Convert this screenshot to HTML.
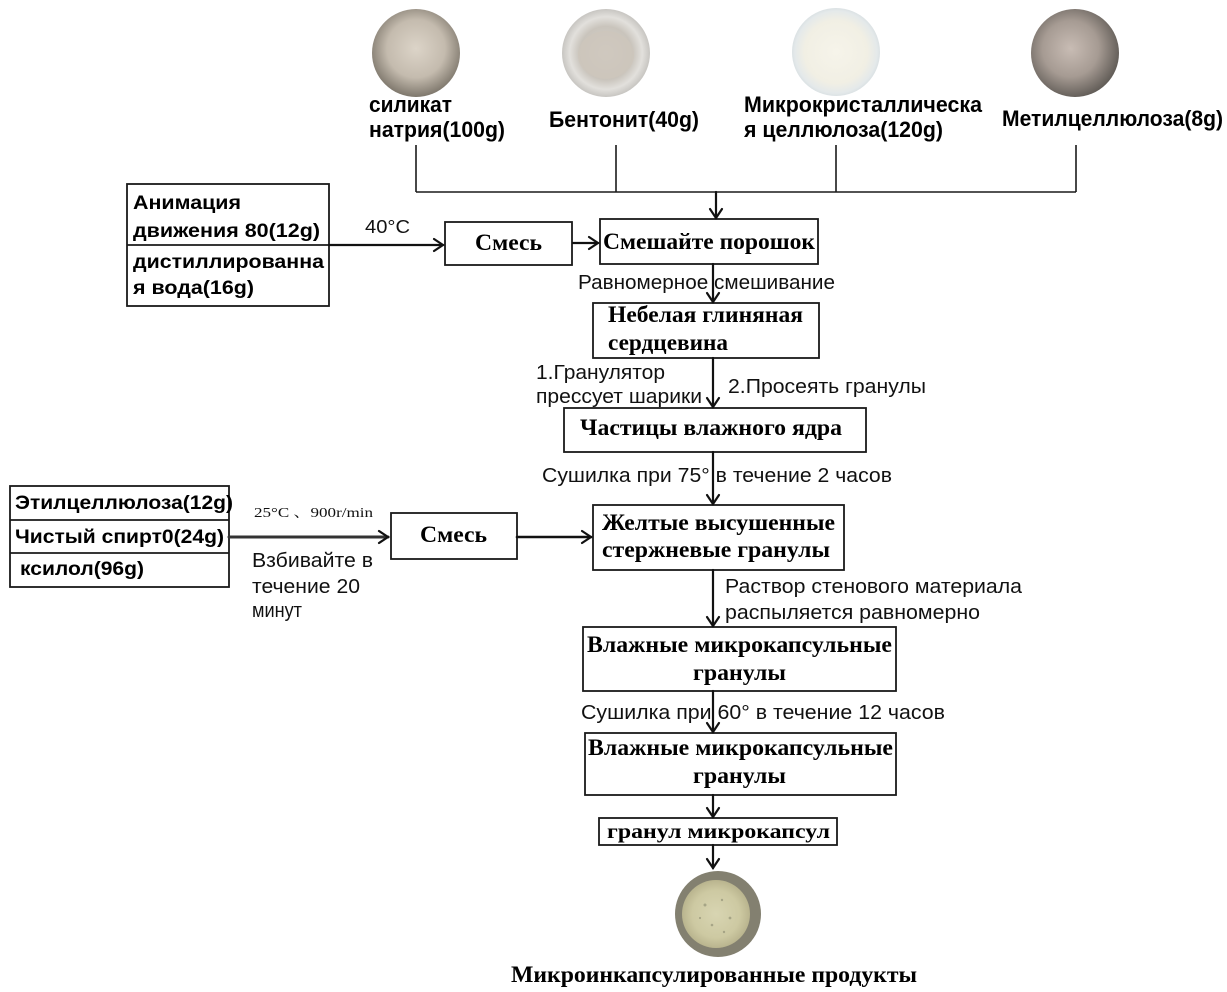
<!DOCTYPE html>
<html><head><meta charset="utf-8"><style>
html,body{margin:0;padding:0;background:#fff;}
svg{display:block;}
.bs{font-family:"Liberation Sans","Noto Sans CJK SC",sans-serif;font-weight:bold;fill:#000;}
.rs{font-family:"Liberation Sans","Noto Sans CJK SC",sans-serif;fill:#111;}
.bf{font-family:"Liberation Serif","Noto Serif CJK SC",serif;font-weight:bold;fill:#000;}
.sf{font-family:"Liberation Serif","Noto Serif CJK SC",serif;fill:#111;}
</style></head><body>
<svg width="1227" height="992" viewBox="0 0 1227 992" xmlns="http://www.w3.org/2000/svg">
<defs>
<radialGradient id="g1" cx="50%" cy="45%" r="55%"><stop offset="0" stop-color="#dcd4c8"/><stop offset="0.6" stop-color="#c4bbae"/><stop offset="1" stop-color="#7e776c"/></radialGradient>
<radialGradient id="g2" cx="50%" cy="50%" r="55%"><stop offset="0" stop-color="#d8d3cb"/><stop offset="0.55" stop-color="#c9c4bc"/><stop offset="0.75" stop-color="#e2e0dc"/><stop offset="1" stop-color="#b8b6b2"/></radialGradient>
<radialGradient id="g3" cx="50%" cy="50%" r="55%"><stop offset="0" stop-color="#f6f4ea"/><stop offset="0.65" stop-color="#f1efe4"/><stop offset="0.85" stop-color="#e4e9ea"/><stop offset="1" stop-color="#cdd6da"/></radialGradient>
<radialGradient id="g4" cx="45%" cy="45%" r="58%"><stop offset="0" stop-color="#c8bcb4"/><stop offset="0.55" stop-color="#a69b93"/><stop offset="1" stop-color="#5e5954"/></radialGradient>
<radialGradient id="g5" cx="50%" cy="50%" r="50%"><stop offset="0" stop-color="#d8d5b2"/><stop offset="0.7" stop-color="#cdc9a2"/><stop offset="1" stop-color="#b9b48e"/></radialGradient>
</defs>

<!-- ingredient images -->
<circle cx="416" cy="53" r="44" fill="url(#g1)"/>
<circle cx="606" cy="53" r="44" fill="url(#g2)"/>
<ellipse cx="606" cy="55" rx="28" ry="24" fill="#cdc6bb" opacity="0.8"/>
<circle cx="836" cy="52" r="44" fill="url(#g3)"/>
<circle cx="1075" cy="53" r="44" fill="url(#g4)"/>

<!-- top labels -->
<text class="bs" x="369" y="112" font-size="22" textLength="83" lengthAdjust="spacingAndGlyphs">силикат</text>
<text class="bs" x="369" y="137" font-size="22" textLength="136" lengthAdjust="spacingAndGlyphs">натрия(100g)</text>
<text class="bs" x="549" y="127" font-size="22" textLength="150" lengthAdjust="spacingAndGlyphs">Бентонит(40g)</text>
<text class="bs" x="744" y="112" font-size="22" textLength="238" lengthAdjust="spacingAndGlyphs">Микрокристаллическа</text>
<text class="bs" x="744" y="137" font-size="22" textLength="199" lengthAdjust="spacingAndGlyphs">я целлюлоза(120g)</text>
<text class="bs" x="1002" y="126" font-size="22" textLength="221" lengthAdjust="spacingAndGlyphs">Метилцеллюлоза(8g)</text>

<g stroke="#1a1a1a" stroke-width="1.6" fill="none">
<line x1="416" y1="145" x2="416" y2="192"/>
<line x1="616" y1="145" x2="616" y2="192"/>
<line x1="836" y1="145" x2="836" y2="192"/>
<line x1="1076" y1="145" x2="1076" y2="192"/>
<line x1="416" y1="192" x2="1076" y2="192"/>
</g>

<!-- boxes -->
<g stroke="#1a1a1a" stroke-width="1.8" fill="none">
<rect x="127" y="184" width="202" height="122"/>
<line x1="127" y1="245" x2="329" y2="245"/>
<rect x="445" y="222" width="127" height="43"/>
<rect x="600" y="219" width="218" height="45"/>
<rect x="593" y="303" width="226" height="55"/>
<rect x="564" y="408" width="302" height="44"/>
<rect x="10" y="486" width="219" height="101"/>
<line x1="10" y1="520" x2="229" y2="520"/>
<line x1="10" y1="553" x2="229" y2="553"/>
<rect x="391" y="513" width="126" height="46"/>
<rect x="593" y="505" width="251" height="65"/>
<rect x="583" y="627" width="313" height="64"/>
<rect x="585" y="733" width="311" height="62"/>
<rect x="599" y="818" width="238" height="27"/>
</g>

<!-- arrows -->
<g stroke="#111" stroke-width="2.2" fill="none" stroke-linecap="round" stroke-linejoin="miter">
<line x1="716" y1="192" x2="716" y2="218"/><polyline points="710,209 716,218 722,209"/>
<line x1="329" y1="245" x2="443" y2="245"/><polyline points="434,239 443,245 434,251"/>
<line x1="573" y1="243" x2="598" y2="243"/><polyline points="589,237 598,243 589,249"/>
<line x1="713" y1="264" x2="713" y2="302"/><polyline points="707,293 713,302 719,293"/>
<line x1="713" y1="358" x2="713" y2="407"/><polyline points="707,398 713,407 719,398"/>
<line x1="713" y1="452" x2="713" y2="504"/><polyline points="707,495 713,504 719,495"/>
<line x1="517" y1="537" x2="591" y2="537" stroke-width="2.6"/><polyline points="582,531 591,537 582,543"/>
<line x1="713" y1="570" x2="713" y2="626"/><polyline points="707,617 713,626 719,617"/>
<line x1="713" y1="691" x2="713" y2="732"/><polyline points="707,723 713,732 719,723"/>
<line x1="713" y1="795" x2="713" y2="817"/><polyline points="707,808 713,817 719,808"/>
<line x1="713" y1="845" x2="713" y2="868"/><polyline points="707,859 713,868 719,859"/>
<line x1="229" y1="537" x2="388" y2="537" stroke-width="3" stroke="#333"/><polyline points="379,531 388,537 379,543"/>
</g>

<!-- left box 1 -->
<text class="bs" x="133" y="209" font-size="19" textLength="108" lengthAdjust="spacingAndGlyphs">Анимация</text>
<text class="bs" x="133" y="237" font-size="19" textLength="187" lengthAdjust="spacingAndGlyphs">движения 80(12g)</text>
<text class="bs" x="133" y="268" font-size="19" textLength="191" lengthAdjust="spacingAndGlyphs">дистиллированна</text>
<text class="bs" x="133" y="294" font-size="19" textLength="121" lengthAdjust="spacingAndGlyphs">я вода(16g)</text>
<text class="rs" x="365" y="233" font-size="18" textLength="45" lengthAdjust="spacingAndGlyphs">40°C</text>

<!-- left box 2 -->
<text class="bs" x="15" y="509" font-size="19" textLength="218" lengthAdjust="spacingAndGlyphs">Этилцеллюлоза(12g)</text>
<text class="bs" x="15" y="543" font-size="19" textLength="209" lengthAdjust="spacingAndGlyphs">Чистый спирт0(24g)</text>
<text class="bs" x="20" y="575" font-size="19" textLength="124" lengthAdjust="spacingAndGlyphs">ксилол(96g)</text>
<text class="sf" x="254" y="517" font-size="14" textLength="119" lengthAdjust="spacingAndGlyphs">25°C 、900r/min</text>
<text class="rs" x="252" y="567" font-size="20" textLength="121" lengthAdjust="spacingAndGlyphs">Взбивайте в</text>
<text class="rs" x="252" y="593" font-size="20" textLength="108" lengthAdjust="spacingAndGlyphs">течение 20</text>
<text class="rs" x="252" y="617" font-size="20" textLength="50" lengthAdjust="spacingAndGlyphs">минут</text>

<!-- main chain texts -->
<text class="bf" x="475" y="250" font-size="23" textLength="67" lengthAdjust="spacingAndGlyphs">Смесь</text>
<text class="bf" x="603" y="249" font-size="23" textLength="212" lengthAdjust="spacingAndGlyphs">Смешайте порошок</text>
<text class="rs" x="578" y="289" font-size="20" textLength="257" lengthAdjust="spacingAndGlyphs">Равномерное смешивание</text>
<text class="bf" x="608" y="322" font-size="23" textLength="195" lengthAdjust="spacingAndGlyphs">Небелая глиняная</text>
<text class="bf" x="608" y="350" font-size="23" textLength="120" lengthAdjust="spacingAndGlyphs">сердцевина</text>
<text class="rs" x="536" y="379" font-size="20" textLength="129" lengthAdjust="spacingAndGlyphs">1.Гранулятор</text>
<text class="rs" x="536" y="403" font-size="20" textLength="166" lengthAdjust="spacingAndGlyphs">прессует шарики</text>
<text class="rs" x="728" y="393" font-size="20" textLength="198" lengthAdjust="spacingAndGlyphs">2.Просеять гранулы</text>
<text class="bf" x="580" y="435" font-size="23" textLength="262" lengthAdjust="spacingAndGlyphs">Частицы влажного ядра</text>
<text class="rs" x="542" y="482" font-size="20" textLength="350" lengthAdjust="spacingAndGlyphs">Сушилка при 75° в течение 2 часов</text>
<text class="bf" x="420" y="542" font-size="23" textLength="67" lengthAdjust="spacingAndGlyphs">Смесь</text>
<text class="bf" x="602" y="530" font-size="23" textLength="233" lengthAdjust="spacingAndGlyphs">Желтые высушенные</text>
<text class="bf" x="602" y="557" font-size="23" textLength="228" lengthAdjust="spacingAndGlyphs">стержневые гранулы</text>
<text class="rs" x="725" y="593" font-size="20" textLength="297" lengthAdjust="spacingAndGlyphs">Раствор стенового материала</text>
<text class="rs" x="725" y="619" font-size="20" textLength="255" lengthAdjust="spacingAndGlyphs">распыляется равномерно</text>
<text class="bf" x="587" y="652" font-size="23" textLength="305" lengthAdjust="spacingAndGlyphs">Влажные микрокапсульные</text>
<text class="bf" x="693" y="680" font-size="23" textLength="93" lengthAdjust="spacingAndGlyphs">гранулы</text>
<text class="rs" x="581" y="719" font-size="20" textLength="364" lengthAdjust="spacingAndGlyphs">Сушилка при 60° в течение 12 часов</text>
<text class="bf" x="588" y="755" font-size="23" textLength="305" lengthAdjust="spacingAndGlyphs">Влажные микрокапсульные</text>
<text class="bf" x="693" y="783" font-size="23" textLength="93" lengthAdjust="spacingAndGlyphs">гранулы</text>
<text class="bf" x="607" y="838" font-size="21" textLength="223" lengthAdjust="spacingAndGlyphs">гранул микрокапсул</text>

<!-- product image -->
<circle cx="718" cy="914" r="43" fill="#838070"/>
<circle cx="716" cy="914" r="34" fill="url(#g5)"/>
<g fill="#8a8a70" opacity="0.6">
<circle cx="705" cy="905" r="1.5"/><circle cx="722" cy="900" r="1.2"/><circle cx="730" cy="918" r="1.4"/><circle cx="712" cy="925" r="1.3"/><circle cx="700" cy="918" r="1.1"/><circle cx="724" cy="932" r="1.2"/>
</g>
<text class="bf" x="511" y="982" font-size="23" textLength="406" lengthAdjust="spacingAndGlyphs">Микроинкапсулированные продукты</text>
</svg>
</body></html>
